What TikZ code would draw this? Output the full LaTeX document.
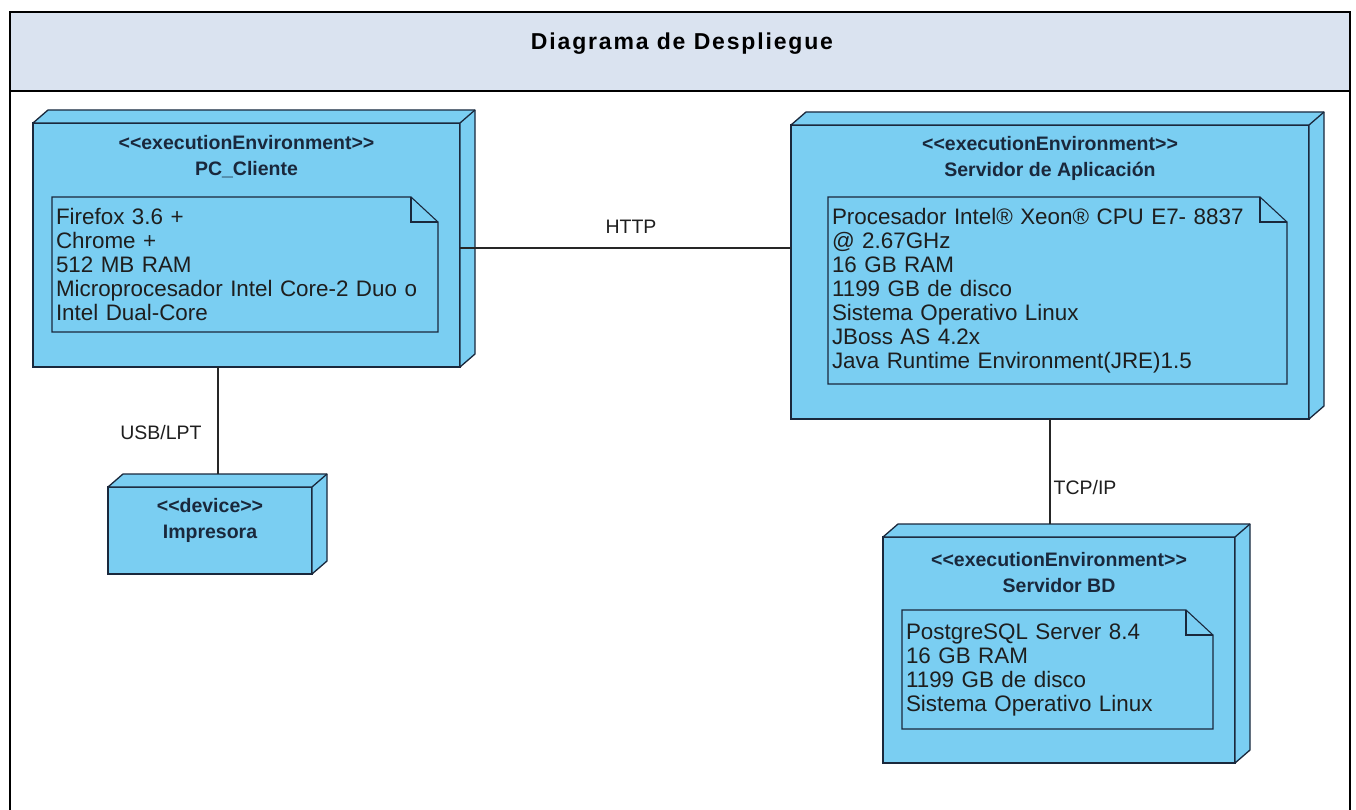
\documentclass[tikz,border=0pt]{standalone}
\usepackage{fontspec}
\setmainfont{Liberation Sans}
\usetikzlibrary{calc}
\definecolor{nodeblue}{RGB}{122,206,242}
\definecolor{edgecol}{RGB}{26,40,60}
\definecolor{headfill}{RGB}{218,227,240}
\definecolor{txt}{RGB}{30,30,30}
\tikzset{
  front/.style={draw=edgecol, line width=1.3pt, fill=nodeblue, inner sep=0pt, outer sep=0pt},
  face/.style={draw=edgecol, line width=1.3pt, fill=nodeblue, line join=round},
  notebox/.style={fill=nodeblue, inner xsep=4pt, inner ysep=0pt, outer sep=0pt, align=left, text=txt, font=\fontsize{22.4}{24}\selectfont},
  notefold/.style={draw=edgecol, line width=1.1pt},
  ntitle/.style={font=\bfseries\fontsize{19.5}{26}\selectfont, align=center, text=edgecol, inner sep=0pt},
  conn/.style={draw=black!85, line width=1.2pt},
  clabel/.style={font=\fontsize{19.5}{22}\selectfont, text=txt, inner sep=0pt},
  titletxt/.style={font=\bfseries\fontsize{23}{26}\selectfont\addfontfeatures{LetterSpace=8}, text=black, inner sep=0pt},
}
\newcommand\extrude[1]{%
  \filldraw[face] (#1.north west) -- ++(15,-13) -- ($(#1.north east)+(15,-13)$) -- ($(#1.south east)+(15,-13)$) -- (#1.south east) -- (#1.north east) -- cycle;
  \draw[face,fill=none] (#1.north east) -- ++(15,-13);}
\newcommand\dogear[1]{%
  \draw[notefold] (#1.north west) -- ($(#1.north east)+(-27,0)$) -- ($(#1.north east)+(0,25)$) -- (#1.south east) -- (#1.south west) -- cycle;
  \draw[notefold] ($(#1.north east)+(-27,0)$) |- ($(#1.north east)+(0,25)$);}
\begin{document}
\begin{tikzpicture}[x=1pt,y=-1pt]
\useasboundingbox (0,0) rectangle (1356,810);
\clip (0,0) rectangle (1356,810);
\fill[white] (0,0) rectangle (1356,810);
% frame
\fill[headfill] (10,12) rectangle (1350,91);
\draw[line width=2pt] (10,815) -- (10,12) -- (1350,12) -- (1350,815);
\draw[line width=2pt] (10,91) -- (1350,91);
\node[titletxt, anchor=base] (title) at (682,50) {Diagrama de Despliegue};

% PC_Cliente
\node[front, minimum width=427pt, minimum height=244pt] (pc) at (246.5,245) {};
\extrude{pc}
\node[ntitle] (pct) at ($(pc.north)+(0,34)$) {<\kern0pt<executionEnvironment>\kern0pt>\\PC\_Cliente};
\node[notebox, text width=378pt, minimum height=135pt] (pcnote) at (245,264.5)
  {Firefox 3.6 +\\Chrome +\\512 MB RAM\\Microprocesador Intel Core-2 Duo o\\Intel Dual-Core};
\dogear{pcnote}

% Servidor de Aplicacion
\node[front, minimum width=518pt, minimum height=294pt] (app) at (1050,272) {};
\extrude{app}
\node[ntitle] (appt) at ($(app.north)+(0,33)$) {<\kern0pt<executionEnvironment>\kern0pt>\\Servidor de Aplicación};
\node[notebox, text width=451pt, minimum height=187pt] (appnote) at (1057.5,290.5)
  {Procesador Intel® Xeon® CPU E7- 8837\\@ 2.67GHz\\16 GB RAM\\1199 GB de disco\\Sistema Operativo Linux\\JBoss AS 4.2x\\Java Runtime Environment(JRE)1.5};
\dogear{appnote}

% Impresora
\node[front, minimum width=204pt, minimum height=87pt] (imp) at (210,530.5) {};
\extrude{imp}
\node[ntitle] (impt) at ($(imp.north)+(0,33)$) {<\kern0pt<device>\kern0pt>\\Impresora};

% Servidor BD
\node[front, minimum width=352pt, minimum height=226pt] (bd) at (1059,650) {};
\extrude{bd}
\node[ntitle] (bdt) at ($(bd.north)+(0,36)$) {<\kern0pt<executionEnvironment>\kern0pt>\\Servidor BD};
\node[notebox, text width=303pt, minimum height=119pt] (bdnote) at (1057.5,669.5)
  {PostgreSQL Server 8.4\\16 GB RAM\\1199 GB de disco\\Sistema Operativo Linux};
\dogear{bdnote}

% connectors
\coordinate (httpy) at (0,248);
\coordinate (usbx) at (218,0);
\coordinate (tcpx) at (1050,0);
\draw[conn] (pc.east |- httpy) -- (app.west |- httpy);
\draw[conn] (pc.south -| usbx) -- ($(imp.north -| usbx)+(0,-13)$);
\draw[conn] (app.south -| tcpx) -- ($(bd.north -| tcpx)+(0,-13)$);
\node[clabel] (httpl) at (631,227) {HTTP};
\node[clabel] (usbl) at (161,433) {USB/LPT};
\node[clabel] (tcpl) at (1085,488) {TCP/IP};
\end{tikzpicture}
\end{document}
